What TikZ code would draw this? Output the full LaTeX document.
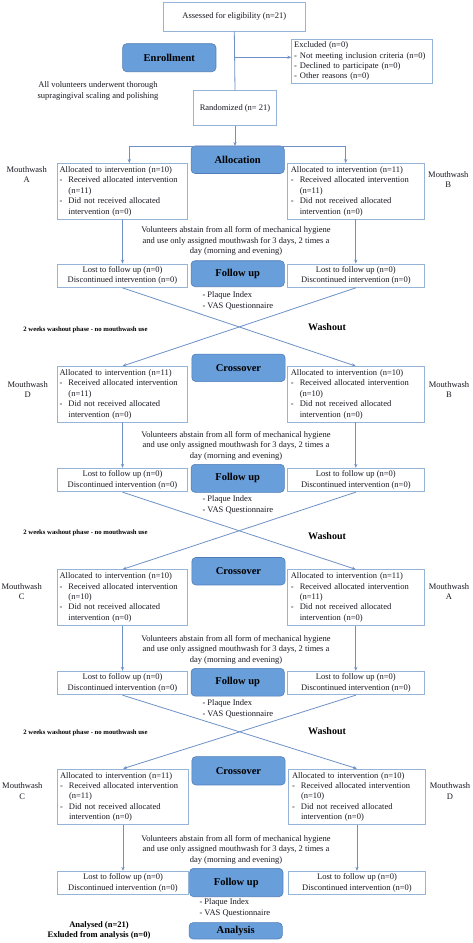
\documentclass[tikz,border=0pt]{standalone}
\usepackage{fontspec}
\setmainfont{Liberation Serif}
\usetikzlibrary{arrows.meta,calc}
\definecolor{bfill}{RGB}{104,158,218}
\definecolor{bdraw}{RGB}{80,125,185}
\definecolor{wdraw}{RGB}{150,180,215}
\definecolor{lcol}{RGB}{110,145,200}
\definecolor{tcol}{RGB}{25,25,35}
\newcommand{\alloctxt}[2]{Allocated to intervention (n=#1)\\
\makebox[9pt][l]{-}Received allocated intervention\\
\hspace*{9pt}(n=#2)\\
\makebox[9pt][l]{-}Did not received allocated\\
\hspace*{9pt}intervention (n=0)}
\newcommand{\losttxt}{Lost to follow up (n=0)\\Discontinued intervention (n=0)}
\newcommand{\voltxt}{Volunteers abstain from all form of mechanical hygiene\\and use only assigned mouthwash for 3 days, 2 times a\\day (morning and evening)}
\begin{document}
\begin{tikzpicture}[x=1pt,y=-1pt,
  txt/.style={font=\fontsize{8.5}{10.4}\selectfont, text=tcol},
  wbox/.style={txt, draw=wdraw, line width=0.8pt, fill=white, inner sep=0pt},
  abox/.style={wbox, minimum width=130.4pt, minimum height=55.5pt, text width=126pt, align=left},
  arbox/.style={wbox, minimum width=137pt, minimum height=55.5pt, text width=130pt, align=left},
  lbox/.style={wbox, minimum width=130.4pt, minimum height=23.5pt, align=center},
  lrbox/.style={wbox, minimum width=137pt, minimum height=23.5pt, align=center},
  bbox/.style={fill=bfill, draw=bdraw, line width=0.6pt, rounded corners=4pt,
    font=\fontsize{10.5}{12}\selectfont\bfseries, text=black, minimum width=93.3pt, minimum height=27.5pt, inner sep=0pt},
  arr/.style={draw=lcol, line width=0.8pt, -{Stealth[length=4pt,width=3.2pt]}},
  ln/.style={draw=lcol, line width=0.8pt},
  mw/.style={txt, align=center},
  vol/.style={txt, align=center},
  plq/.style={txt, align=left, anchor=west},
  wash/.style={font=\fontsize{10}{12}\selectfont\bfseries, text=black},
  small/.style={font=\fontsize{6.7}{8}\selectfont\bfseries, text=black}
]
\useasboundingbox (0,0) rectangle (472,943);
\fill[white] (0,0) rectangle (472,943);

% Enrollment
\node[wbox, minimum width=142.7pt, minimum height=28.3pt] (assess) at (234.3,16.8) {Assessed for eligibility (n=21)};
\node[wbox, minimum width=141pt, minimum height=44.3pt, text width=136pt, align=left] (excl) at (362.2,61.2)
  {Excluded (n=0)\\- Not meeting inclusion criteria (n=0)\\- Declined to participate (n=0)\\- Other reasons (n=0)};
\node[bbox, minimum height=28pt] (enr) at (169.3,57.7) {Enrollment};
\node[txt, align=center] (allv) at (98,91) {All volunteers underwent thorough\\supragingival scaling and polishing};
\node[wbox, minimum width=82.6pt, minimum height=35pt] (rand) at (235,108.2) {Randomized (n= 21)};
\coordinate (br) at (235,57.3);
\draw[ln] (assess.south) -- (rand.north);
\draw[arr] (br) -- (excl.west |- br);

% Allocation
\node[bbox] (alloc) at (237.7,159.7) {Allocation};
\coordinate (jL) at (129.3,146);
\coordinate (jR) at (345.7,146);
\draw[arr] (rand.south) -- (rand.south |- jL);
\draw[ln] (jL) -- (jR);
\node[abox] (a1L) at (122.5,191.2) {\alloctxt{10}{11}};
\node[arbox] (a1R) at (355.8,191.2) {\alloctxt{11}{11}};
\draw[arr] (jL) -- (jL |- a1L.north);
\draw[arr] (jR) -- (jR |- a1R.north);
\node[mw] (m1L) at (26.7,174.8) {Mouthwash\\A};
\node[mw] (m1R) at (448.3,179.7) {Mouthwash\\B};
\node[vol] (v1) at (236,241.1) {\voltxt};
\node[lbox] (l1L) at (122.5,275.7) {\losttxt};
\node[lrbox] (l1R) at (355.8,275.7) {\losttxt};
\node[bbox, minimum height=26pt] (f1) at (237.7,273.7) {Follow up};
\draw[arr] (a1L.south) -- (l1L.north);
\draw[arr] (a1R.south) -- (l1R.north);
\node[plq] (p1) at (199,300.7) {- Plaque Index\\- VAS Questionnaire};
\node[wash] (w1) at (327,327.3) {Washout};
\node[small] (s1) at (85.5,330) {2 weeks washout phase - no mouthwash use};

% Crossover 1
\node[bbox] (c1) at (238.5,367.8) {Crossover};
\node[abox] (a2L) at (122.5,394.2) {\alloctxt{11}{11}};
\node[arbox] (a2R) at (355.8,394.2) {\alloctxt{10}{10}};
\draw[arr] (l1L.south) -- (a2R.north);
\draw[arr] (l1R.south) -- (a2L.north);
\node[mw] (m2L) at (27.7,389.3) {Mouthwash\\D};
\node[mw] (m2R) at (449,389.3) {Mouthwash\\B};
\node[vol] (v2) at (236,445.6) {\voltxt};
\node[lbox] (l2L) at (122.5,480) {\losttxt};
\node[lrbox] (l2R) at (355.8,480) {\losttxt};
\node[bbox, minimum height=28pt] (f2) at (237.7,478.3) {Follow up};
\draw[arr] (a2L.south) -- (l2L.north);
\draw[arr] (a2R.south) -- (l2R.north);
\node[plq] (p2) at (199,504.9) {- Plaque Index\\- VAS Questionnaire};
\node[wash] (w2) at (327,536) {Washout};
\node[small] (s2) at (85.5,533.3) {2 weeks washout phase - no mouthwash use};

% Crossover 2
\node[bbox] (c2) at (238.5,571.2) {Crossover};
\node[abox] (a3L) at (122.5,597.5) {\alloctxt{10}{10}};
\node[arbox] (a3R) at (355.8,597.5) {\alloctxt{11}{11}};
\draw[arr] (l2L.south) -- (a3R.north);
\draw[arr] (l2R.south) -- (a3L.north);
\node[mw] (m3L) at (21.7,591.3) {Mouthwash\\C};
\node[mw] (m3R) at (449,591.5) {Mouthwash\\A};
\node[vol] (v3) at (236,649.8) {\voltxt};
\node[lbox] (l3L) at (122.5,683) {\losttxt};
\node[lrbox] (l3R) at (355.8,683) {\losttxt};
\node[bbox, minimum height=27.7pt] (f3) at (237.7,682.2) {Follow up};
\draw[arr] (a3L.south) -- (l3L.north);
\draw[arr] (a3R.south) -- (l3R.north);
\node[plq] (p3) at (199,708.7) {- Plaque Index\\- VAS Questionnaire};
\node[wash] (w3) at (327,730.7) {Washout};
\node[small] (s3) at (85.5,733.3) {2 weeks washout phase - no mouthwash use};

% Crossover 3
\node[bbox, minimum height=28.3pt] (c3) at (238.5,770.8) {Crossover};
\node[abox] (a4L) at (123,796.8) {\alloctxt{11}{11}};
\node[arbox] (a4R) at (357,796.8) {\alloctxt{10}{10}};
\draw[arr] (l3L.south) -- (a4R.north);
\draw[arr] (l3R.south) -- (a4L.north);
\node[mw] (m4L) at (22.3,791.2) {Mouthwash\\C};
\node[mw] (m4R) at (450,791.2) {Mouthwash\\D};
\node[vol] (v4) at (236,849.8) {\voltxt};
\node[lbox] (l4L) at (123,883) {\losttxt};
\node[lrbox] (l4R) at (357,883) {\losttxt};
\node[bbox, minimum height=28.4pt] (f4) at (236.3,882.5) {Follow up};
\draw[arr] (a4L.south) -- (l4L.north);
\draw[arr] (a4R.south) -- (l4R.north);
\node[plq] (p4) at (196,907.8) {- Plaque Index\\- VAS Questionnaire};

% Analysis
\node[bbox, minimum height=16.3pt] (an) at (235.7,930.8) {Analysis};
\node[txt, align=center, font=\fontsize{8.5}{10}\selectfont\bfseries, text=black] (res) at (99,930.7) {Analysed (n=21)\\Exluded from analysis (n=0)};
\end{tikzpicture}
\end{document}
